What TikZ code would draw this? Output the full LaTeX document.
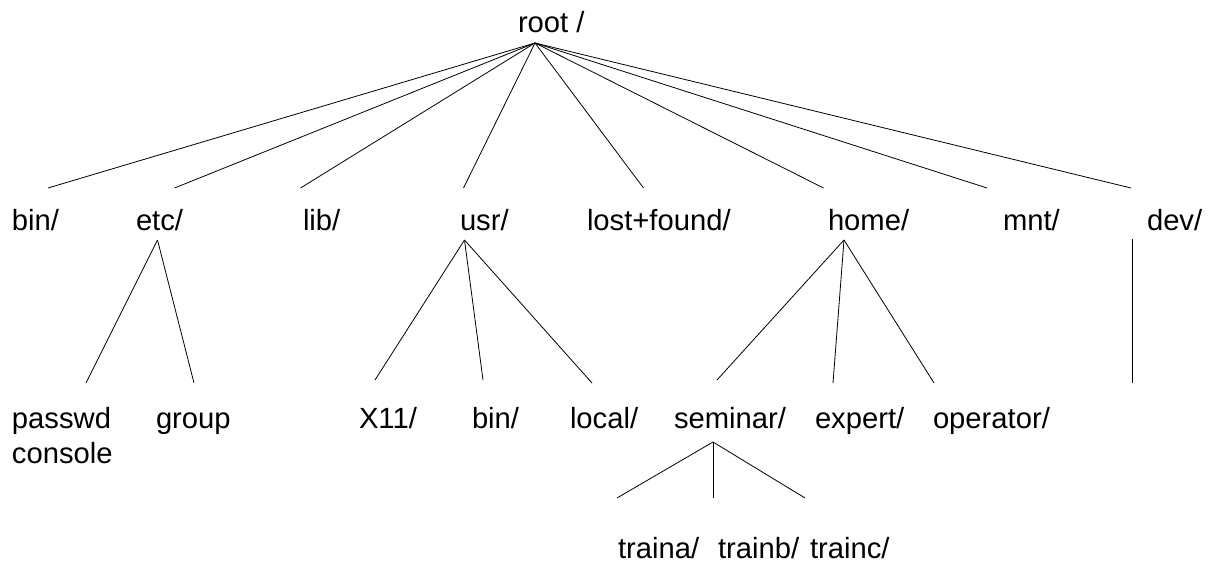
\documentclass[tikz,border=0pt]{standalone}
\usepackage{fontspec}
\setmainfont{Liberation Sans}
\begin{document}
\begin{tikzpicture}[x=1pt,y=-1pt,
  label/.style={anchor=base west,inner sep=0pt,outer sep=0pt,font=\fontsize{29.2}{35}\selectfont},
  branch/.style={line width=0.8pt,black}]
\useasboundingbox[fill=white] (0,0) rectangle (1212,562);

% ---- labels ----
\node[label] (root) at (518,32) {root /};
\node[label] (bin) at (12,230) {bin/};
\node[label] (etc) at (136,230) {etc/};
\node[label] (lib) at (303,230) {lib/};
\node[label] (usr) at (460,230) {usr/};
\node[label] (lost) at (587,230) {lost+found/};
\node[label] (home) at (828,230) {home/};
\node[label] (mnt) at (1003,230) {mnt/};
\node[label] (dev) at (1147,230) {dev/};

\node[label] (passwd) at (12,428) {\vtop{\hbox{passwd}\hbox{console}}};
\node[label] (group) at (156,428) {group};
\node[label] (x11) at (359,428) {X11/};
\node[label] (ubin) at (472,428) {bin/};
\node[label] (local) at (570,428) {local/};
\node[label] (seminar) at (674,428) {seminar/};
\node[label] (expert) at (815,428) {expert/};
\node[label] (operator) at (933,428) {operator/};
\node[label] (traina) at (618,558) {traina/};
\node[label] (trainb) at (718,558) {trainb/};
\node[label] (trainc) at (810,558) {trainc/};

% ---- branch points ----
\coordinate (rootP) at (535,43);
\coordinate (binT) at (48,188);
\coordinate (etcT) at (174.5,188);
\coordinate (libT) at (300.5,188);
\coordinate (usrT) at (463.5,188);
\coordinate (lostT) at (643.5,188);
\coordinate (homeT) at (823.5,188);
\coordinate (mntT) at (987,188);
\coordinate (devT) at (1131,188);

\coordinate (etcP) at (157.5,240);
\coordinate (passwdT) at (86,383);
\coordinate (groupT) at (194,383);

\coordinate (usrP) at (464.5,240);
\coordinate (x11T) at (375,380);
\coordinate (ubinT) at (483,380);
\coordinate (localT) at (592,383);

\coordinate (homeP) at (844,240);
\coordinate (seminarT) at (717,380);
\coordinate (expertT) at (833,383);
\coordinate (operatorT) at (934,383);

\coordinate (devP) at (1132,239);
\coordinate (devB) at (1132,383);

\coordinate (seminarP) at (713,442);
\coordinate (trainaT) at (617,498);
\coordinate (trainbT) at (713,498);
\coordinate (traincT) at (805,498);

% ---- branches ----
\foreach \c in {binT,etcT,libT,usrT,lostT,homeT,mntT,devT}
  \draw[branch] (rootP) -- (\c);
\foreach \c in {passwdT,groupT}
  \draw[branch] (etcP) -- (\c);
\foreach \c in {x11T,ubinT,localT}
  \draw[branch] (usrP) -- (\c);
\foreach \c in {seminarT,expertT,operatorT}
  \draw[branch] (homeP) -- (\c);
\draw[branch] (devP) -- (devB);
\foreach \c in {trainaT,trainbT,traincT}
  \draw[branch] (seminarP) -- (\c);
\end{tikzpicture}
\end{document}
